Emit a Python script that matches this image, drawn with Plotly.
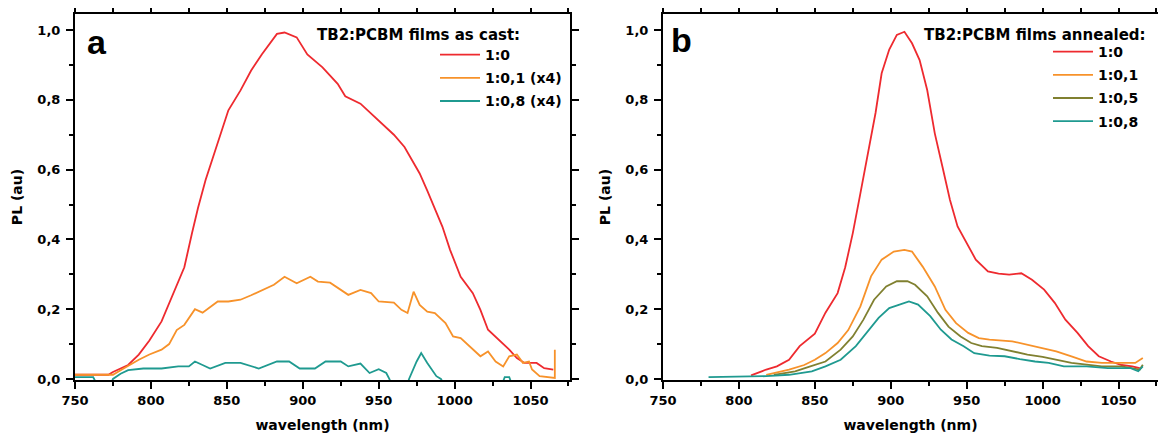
import plotly.graph_objects as go

# ---------------- Panel a: as cast ----------------
a_red_x = [750, 760, 772, 775, 785, 792, 799, 807, 814, 822, 827, 831, 836, 841, 846, 851, 859, 866, 873, 883,
           888, 896, 903, 913, 923, 928, 938, 945, 955, 960, 967, 972, 977, 982, 987, 992, 997, 1004, 1012, 1017,
           1022, 1029, 1036, 1041, 1046, 1054, 1059, 1065]
a_red_y = [0.012, 0.012, 0.012, 0.02, 0.04, 0.07, 0.11, 0.165, 0.236, 0.32, 0.417, 0.49, 0.57, 0.636, 0.70, 0.77,
           0.827, 0.884, 0.93, 0.989, 0.993, 0.979, 0.93, 0.893, 0.846, 0.81, 0.789, 0.76, 0.72, 0.70, 0.665, 0.627,
           0.589, 0.54, 0.49, 0.436, 0.37, 0.293, 0.246, 0.198, 0.141, 0.112, 0.084, 0.06, 0.046, 0.046, 0.031, 0.027]

a_or_x = [750, 765, 775, 782, 792, 799, 807, 812, 817, 822, 827, 829, 834, 839, 844, 851, 859, 866, 873, 881, 888,
          896, 905, 910, 918, 925, 930, 938, 945, 950, 960, 965, 969, 973, 977, 982, 987, 994, 999, 1004, 1012, 1017,
          1022, 1027, 1032, 1036, 1041, 1045, 1049, 1051, 1056, 1064, 1066, 1066]
a_or_y = [0.012, 0.012, 0.012, 0.03, 0.055, 0.07, 0.084, 0.10, 0.14, 0.155, 0.19, 0.20, 0.19, 0.207, 0.222, 0.222,
          0.227, 0.24, 0.255, 0.27, 0.293, 0.274, 0.293, 0.279, 0.276, 0.255, 0.241, 0.255, 0.246, 0.222, 0.219, 0.198,
          0.189, 0.25, 0.212, 0.193, 0.189, 0.16, 0.122, 0.117, 0.084, 0.065, 0.079, 0.05, 0.036, 0.065, 0.07, 0.046,
          0.05, 0.027, 0.008, 0.003, 0.003, 0.084]

a_te_x = [750, 762, 765, 773, 775, 780, 785, 795, 807, 818, 825, 829, 834, 839, 849, 859, 871, 883, 891, 898, 908,
          915, 925, 930, 938, 944, 950, 955, 957, 960, 968, 970, 975, 978, 982, 988, 991, 995, 1030, 1033, 1036, 1039,
          1066]
a_te_y = [0.005, 0.005, -0.02, -0.02, 0.0, 0.015, 0.025, 0.03, 0.03, 0.036, 0.036, 0.05, 0.04, 0.03, 0.046, 0.046,
          0.03, 0.05, 0.05, 0.03, 0.03, 0.05, 0.05, 0.036, 0.044, 0.017, 0.028, 0.017, 0.0, -0.03, -0.03, 0.0, 0.05,
          0.074, 0.046, 0.008, 0.0, -0.03, -0.03, 0.005, 0.005, -0.03, -0.03]

# ---------------- Panel b: annealed ----------------
b_red_x = [808, 818, 825, 833, 840, 850, 857, 865, 870, 875, 880, 885, 890, 894, 899, 904, 909, 914, 919, 924, 929,
           934, 939, 944, 951, 956, 964, 971, 978, 986, 993, 1001, 1008, 1015, 1023, 1030, 1037, 1045, 1052, 1059,
           1064]
b_red_y = [0.01, 0.027, 0.036, 0.055, 0.094, 0.13, 0.19, 0.246, 0.32, 0.418, 0.532, 0.647, 0.763, 0.876, 0.944,
           0.986, 0.995, 0.962, 0.914, 0.828, 0.704, 0.609, 0.513, 0.437, 0.38, 0.342, 0.308, 0.302, 0.299, 0.303,
           0.284, 0.256, 0.218, 0.17, 0.132, 0.094, 0.065, 0.05, 0.04, 0.036, 0.031]

b_or_x = [818, 833, 843, 850, 857, 865, 872, 880, 887, 894, 902, 909, 914, 921, 929, 936, 943, 951, 958, 965, 980,
          990, 1000, 1009, 1019, 1029, 1039, 1052, 1061, 1066]
b_or_y = [0.012, 0.027, 0.04, 0.055, 0.074, 0.103, 0.14, 0.208, 0.294, 0.342, 0.365, 0.37, 0.365, 0.322, 0.265,
          0.198, 0.16, 0.132, 0.117, 0.113, 0.108, 0.098, 0.089, 0.079, 0.065, 0.05, 0.046, 0.046, 0.046, 0.06]

b_ol_x = [823, 837, 847, 857, 867, 875, 882, 889, 897, 904, 911, 916, 924, 931, 938, 946, 953, 960, 970, 980, 990,
          1000, 1009, 1019, 1029, 1039, 1052, 1064, 1066]
b_ol_y = [0.012, 0.022, 0.036, 0.05, 0.084, 0.122, 0.17, 0.227, 0.265, 0.28, 0.28, 0.27, 0.237, 0.19, 0.15, 0.122,
          0.103, 0.094, 0.089, 0.079, 0.07, 0.063, 0.055, 0.046, 0.041, 0.036, 0.036, 0.027, 0.041]

b_te_x = [780, 799, 818, 833, 848, 857, 867, 877, 884, 892, 899, 906, 912, 918, 926, 933, 940, 948, 955, 965, 975,
          985, 995, 1004, 1014, 1029, 1043, 1058, 1063, 1066]
b_te_y = [0.005, 0.006, 0.008, 0.012, 0.022, 0.036, 0.055, 0.094, 0.132, 0.175, 0.203, 0.213, 0.222, 0.213, 0.18,
          0.141, 0.113, 0.094, 0.074, 0.067, 0.065, 0.057, 0.05, 0.046, 0.036, 0.036, 0.031, 0.031, 0.022, 0.036]

a_names = ["1:0", "1:0,1 (x4)", "1:0,8 (x4)"]
b_names = ["1:0", "1:0,1", "1:0,5", "1:0,8"]
title_a = "TB2:PCBM films as cast:"
title_b = "TB2:PCBM films annealed:"
x_title = "wavelength (nm)"
y_title = "PL (au)"

X_RANGE = [750, 1076]
Y_RANGE = [-0.003, 1.046]

RED, ORANGE, OLIVE, TEAL = "#ee2a2f", "#f7922a", "#808030", "#1f9a90"
FONT = "DejaVu Sans"
LETTER_FONT = "Liberation Sans"

# the page body has an 8px margin: work in screen pixels and subtract it
OFF = 8
W, H = 1166 - OFF, 439 - OFF
def px(xs):
    return (xs - OFF) / W
def py(ys):
    return 1 - (ys - OFF) / H

fig = go.Figure()
for xs, ys, nm, col, grp in [(a_red_x, a_red_y, a_names[0], RED, "a1"),
                             (a_or_x, a_or_y, a_names[1], ORANGE, "a2"),
                             (a_te_x, a_te_y, a_names[2], TEAL, "a3")]:
    fig.add_trace(go.Scatter(x=xs, y=ys, name=nm, mode="lines", line=dict(color=col, width=1.8),
                             xaxis="x", yaxis="y", legend="legend", legendgroup=grp))
for xs, ys, nm, col, grp in [(b_red_x, b_red_y, b_names[0], RED, "b1"),
                             (b_or_x, b_or_y, b_names[1], ORANGE, "b2"),
                             (b_ol_x, b_ol_y, b_names[2], OLIVE, "b3"),
                             (b_te_x, b_te_y, b_names[3], TEAL, "b4")]:
    fig.add_trace(go.Scatter(x=xs, y=ys, name=nm, mode="lines", line=dict(color=col, width=1.8),
                             xaxis="x2", yaxis="y2", legend="legend2", legendgroup=grp))

ydom = [py(380), py(14)]
tickfont = dict(family=FONT, size=13, color="black", weight="bold")
titlefont = dict(family=FONT, size=14, color="black", weight="bold")

def xax(dom, anchor, **kw):
    d = dict(domain=dom, anchor=anchor, range=X_RANGE, tickmode="linear", tick0=750, dtick=50,
             ticks="outside", ticklen=7, tickwidth=2, tickcolor="black",
             showline=True, linewidth=2, linecolor="black", showgrid=False, zeroline=False, automargin=False,
             minor=dict(ticks="outside", ticklen=4, tickwidth=2, tickcolor="black", dtick=25, tick0=750),
             tickfont=tickfont, title=dict(text=x_title, font=titlefont, standoff=14))
    d.update(kw)
    return d

def yax(dom, anchor, **kw):
    d = dict(domain=dom, anchor=anchor, range=Y_RANGE, tickmode="linear", tick0=0, dtick=0.2,
             tickformat=".1f", ticks="outside", ticklen=7, tickwidth=2, tickcolor="black",
             showline=True, linewidth=2, linecolor="black", showgrid=False, zeroline=False, automargin=False,
             minor=dict(ticks="outside", ticklen=4, tickwidth=2, tickcolor="black", dtick=0.1, tick0=0),
             tickfont=tickfont, ticklabelstandoff=3, title=dict(text=y_title, font=titlefont, standoff=11))
    d.update(kw)
    return d

xa = [px(75), px(570)]
xb = [px(663), px(1158)]
no_title = dict(text="")

# invisible traces so the mirrored tick axes (top / right) are drawn
fig.add_trace(go.Scatter(x=[None], y=[None], xaxis="x3", yaxis="y3", showlegend=False, hoverinfo="skip"))
fig.add_trace(go.Scatter(x=[None], y=[None], xaxis="x4", yaxis="y4", showlegend=False, hoverinfo="skip"))

leg_font = dict(family=FONT, size=14, color="black", weight="bold")
head_font = dict(family=FONT, size=15, color="black", weight="bold")
fig.update_layout(
    width=W, height=H, margin=dict(l=0, r=0, t=0, b=0, autoexpand=False),
    paper_bgcolor="white", plot_bgcolor="white", separators=",.",
    xaxis=xax(xa, "y"), yaxis=yax(ydom, "x"),
    xaxis2=xax(xb, "y2"), yaxis2=yax(ydom, "x2"),
    xaxis3=xax(xa, "y3", side="top", overlaying="x", showticklabels=False, title=no_title),
    yaxis3=yax(ydom, "x3", side="right", overlaying="y", showticklabels=False, title=no_title),
    xaxis4=xax(xb, "y4", side="top", overlaying="x2", showticklabels=False, title=no_title),
    yaxis4=yax(ydom, "x4", side="right", overlaying="y2", showticklabels=False, title=no_title),
    legend=dict(x=px(435), y=py(39), xanchor="left", yanchor="top", font=leg_font,
                bgcolor="rgba(0,0,0,0)", borderwidth=0, tracegroupgap=2, itemwidth=40),
    legend2=dict(x=px(1048), y=py(36), xanchor="left", yanchor="top", font=leg_font,
                 bgcolor="rgba(0,0,0,0)", borderwidth=0, tracegroupgap=2, itemwidth=40),
    showlegend=True,
    annotations=[
        dict(text=title_a, x=px(522), y=py(35), xref="paper", yref="paper", showarrow=False, xanchor="right",
             yanchor="middle", font=head_font),
        dict(text=title_b, x=px(1148), y=py(35), xref="paper", yref="paper", showarrow=False, xanchor="right",
             yanchor="middle", font=head_font),
        dict(text="a", x=px(97), y=py(42), xref="paper", yref="paper", showarrow=False, xanchor="center",
             yanchor="middle", font=dict(family=LETTER_FONT, size=34, color="black", weight="bold")),
        dict(text="b", x=px(681), y=py(40), xref="paper", yref="paper", showarrow=False, xanchor="center",
             yanchor="middle", font=dict(family=LETTER_FONT, size=34, color="black", weight="bold")),
    ],
)

fig.write_html("out.html")
